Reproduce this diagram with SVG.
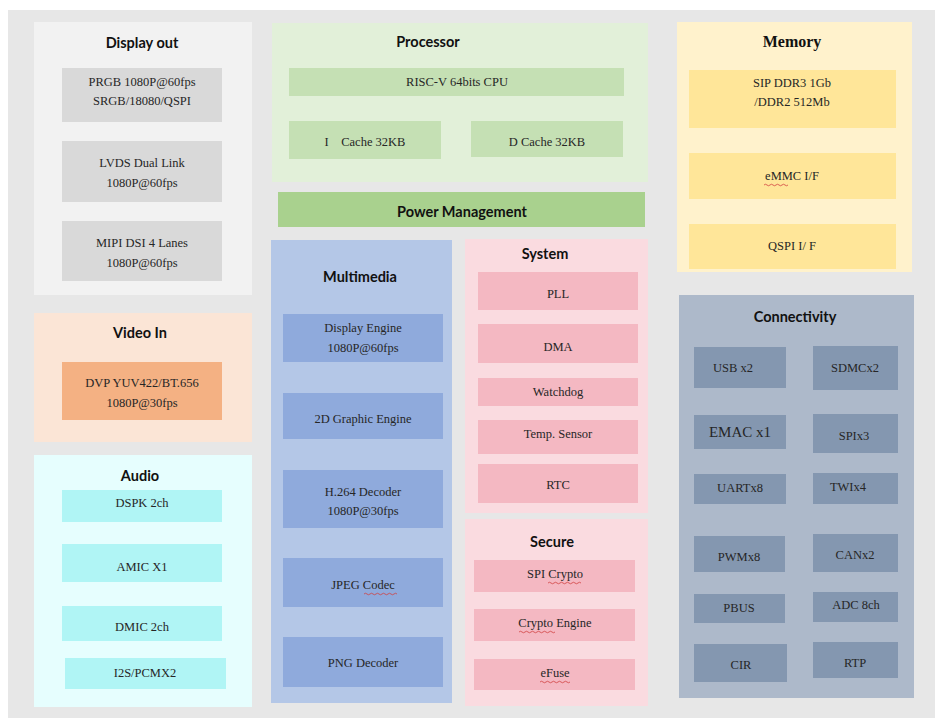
<svg xmlns="http://www.w3.org/2000/svg" width="935" height="718" viewBox="0 0 935 718">
<style>
.t{font-family:Lato,"Open Sans","Liberation Sans",sans-serif;font-weight:bold;font-size:14.5px;fill:#111;text-anchor:middle}
.ts{font-family:"Liberation Serif","Times New Roman",serif;font-weight:bold;font-size:16px;fill:#111;text-anchor:middle}
.b{font-family:"Liberation Serif","Times New Roman",serif;font-size:12.5px;fill:#262626;text-anchor:middle;dominant-baseline:middle}
.wv{fill:none;stroke:#d04040;stroke-width:0.8}
</style>
<rect x="0" y="0" width="935" height="718" fill="#ffffff"/>
<rect x="8" y="10" width="927" height="708" fill="#e7e7e7"/>

<g id="display-out">
<rect x="34" y="22" width="218" height="273" fill="#f2f2f2"/>
<text class="t" x="142" y="48">Display out</text>
<rect x="62" y="68" width="160" height="54" fill="#d9d9d9"/>
<text class="b" x="142" y="83">PRGB 1080P@60fps</text>
<text class="b" x="142" y="102">SRGB/18080/QSPI</text>
<rect x="62" y="141" width="160" height="61" fill="#d9d9d9"/>
<text class="b" x="142" y="164">LVDS Dual Link</text>
<text class="b" x="142" y="184">1080P@60fps</text>
<rect x="62" y="221" width="160" height="60" fill="#d9d9d9"/>
<text class="b" x="142" y="244">MIPI DSI 4 Lanes</text>
<text class="b" x="142" y="264">1080P@60fps</text>
</g>

<g id="video-in">
<rect x="34" y="313" width="218" height="129" fill="#fbe5d6"/>
<text class="t" x="140" y="338">Video In</text>
<rect x="62" y="362" width="160" height="58" fill="#f4b183"/>
<text class="b" x="142" y="384">DVP YUV422/BT.656</text>
<text class="b" x="142" y="404">1080P@30fps</text>
</g>

<g id="audio">
<rect x="34" y="455" width="218" height="252" fill="#e6fefe"/>
<text class="t" x="140" y="481">Audio</text>
<rect x="62" y="490" width="160" height="32" fill="#b0f5f5"/>
<text class="b" x="142" y="504">DSPK 2ch</text>
<rect x="62" y="544" width="160" height="38" fill="#b0f5f5"/>
<text class="b" x="142" y="568">AMIC X1</text>
<rect x="62" y="606" width="160" height="35" fill="#b0f5f5"/>
<text class="b" x="142" y="628">DMIC 2ch</text>
<rect x="65" y="658" width="161" height="31" fill="#b0f5f5"/>
<text class="b" x="145" y="674">I2S/PCMX2</text>
</g>

<g id="processor">
<rect x="272" y="23" width="376" height="159" fill="#e2f0d9"/>
<text class="t" x="428" y="47">Processor</text>
<rect x="289" y="68" width="335" height="28" fill="#c5e0b4"/>
<text class="b" x="457" y="83">RISC-V 64bits CPU</text>
<rect x="289" y="121" width="152" height="38" fill="#c5e0b4"/>
<text class="b" x="365" y="143" xml:space="preserve">I    Cache 32KB</text>
<rect x="471" y="121" width="152" height="36" fill="#c5e0b4"/>
<text class="b" x="547" y="143">D Cache 32KB</text>
</g>

<g id="power-management">
<rect x="278" y="192" width="367" height="35" fill="#a9d18e"/>
<text class="t" x="462" y="217">Power Management</text>
</g>

<g id="memory">
<rect x="677" y="22" width="235" height="250" fill="#fff2cc"/>
<text class="ts" x="792" y="47">Memory</text>
<rect x="689" y="70" width="207" height="58" fill="#ffe699"/>
<text class="b" x="792" y="84">SIP DDR3 1Gb</text>
<text class="b" x="792" y="103">/DDR2 512Mb</text>
<rect x="689" y="153" width="207" height="46" fill="#ffe699"/>
<text class="b" x="792" y="177">eMMC I/F</text>
<path class="wv" d="M764 185 q1.5 -1.5 3 0 t3 0 t3 0 t3 0 t3 0 t3 0 t3 0 t3 0"/>
<rect x="689" y="224" width="207" height="45" fill="#ffe699"/>
<text class="b" x="792" y="247">QSPI I/ F</text>
</g>

<g id="multimedia">
<rect x="271" y="240" width="181" height="463" fill="#b4c7e7"/>
<text class="t" x="360" y="282">Multimedia</text>
<rect x="283" y="314" width="160" height="48" fill="#8faadc"/>
<text class="b" x="363" y="329">Display Engine</text>
<text class="b" x="363" y="349">1080P@60fps</text>
<rect x="283" y="393" width="160" height="46" fill="#8faadc"/>
<text class="b" x="363" y="420">2D Graphic Engine</text>
<rect x="283" y="470" width="160" height="58" fill="#8faadc"/>
<text class="b" x="363" y="493">H.264 Decoder</text>
<text class="b" x="363" y="512">1080P@30fps</text>
<rect x="283" y="558" width="160" height="49" fill="#8faadc"/>
<text class="b" x="363" y="586">JPEG Codec</text>
<path class="wv" d="M364 594 q1.5 -1.5 3 0 t3 0 t3 0 t3 0 t3 0 t3 0 t3 0 t3 0 t3 0 t3 0 t3 0"/>
<rect x="283" y="637" width="160" height="50" fill="#8faadc"/>
<text class="b" x="363" y="664">PNG Decoder</text>
</g>

<g id="system">
<rect x="465" y="239" width="183" height="274" fill="#fadbe0"/>
<text class="t" x="545" y="259">System</text>
<rect x="478" y="272" width="160" height="38" fill="#f4b8c2"/>
<text class="b" x="558" y="295">PLL</text>
<rect x="478" y="324" width="160" height="39" fill="#f4b8c2"/>
<text class="b" x="558" y="348">DMA</text>
<rect x="478" y="378" width="160" height="28" fill="#f4b8c2"/>
<text class="b" x="558" y="393">Watchdog</text>
<rect x="478" y="420" width="160" height="34" fill="#f4b8c2"/>
<text class="b" x="558" y="435">Temp. Sensor</text>
<rect x="478" y="464" width="160" height="39" fill="#f4b8c2"/>
<text class="b" x="558" y="486">RTC</text>
</g>

<g id="secure">
<rect x="465" y="519" width="183" height="187" fill="#fadbe0"/>
<text class="t" x="552" y="547">Secure</text>
<rect x="474" y="560" width="161" height="32" fill="#f4b8c2"/>
<text class="b" x="555" y="575">SPI Crypto</text>
<path class="wv" d="M548 583 q1.5 -1.5 3 0 t3 0 t3 0 t3 0 t3 0 t3 0 t3 0 t3 0 t3 0 t3 0 t3 0"/>
<rect x="474" y="609" width="161" height="32" fill="#f4b8c2"/>
<text class="b" x="555" y="624">Crypto Engine</text>
<path class="wv" d="M519 632 q1.5 -1.5 3 0 t3 0 t3 0 t3 0 t3 0 t3 0 t3 0 t3 0 t3 0 t3 0 t3 0 t3 0"/>
<rect x="474" y="659" width="161" height="31" fill="#f4b8c2"/>
<text class="b" x="555" y="674">eFuse</text>
<path class="wv" d="M540 682 q1.5 -1.5 3 0 t3 0 t3 0 t3 0 t3 0 t3 0 t3 0 t3 0 t3 0 t3 0"/>
</g>

<g id="connectivity">
<rect x="679" y="295" width="235" height="403" fill="#adb9ca"/>
<text class="t" x="795" y="322">Connectivity</text>
<rect x="694" y="347" width="92" height="41" fill="#8497b0"/>
<text class="b" x="733" y="369">USB x2</text>
<rect x="813" y="346" width="85" height="44" fill="#8497b0"/>
<text class="b" x="855" y="369">SDMCx2</text>
<rect x="694" y="415" width="92" height="34" fill="#8497b0"/>
<text class="b" x="740" y="434" style="font-size:15px">EMAC x1</text>
<rect x="813" y="414" width="85" height="39" fill="#8497b0"/>
<text class="b" x="854" y="437">SPIx3</text>
<rect x="694" y="474" width="92" height="30" fill="#8497b0"/>
<text class="b" x="740" y="489">UARTx8</text>
<rect x="813" y="473" width="85" height="31" fill="#8497b0"/>
<text class="b" x="848" y="488">TWIx4</text>
<rect x="694" y="536" width="91" height="36" fill="#8497b0"/>
<text class="b" x="739" y="558">PWMx8</text>
<rect x="813" y="534" width="85" height="38" fill="#8497b0"/>
<text class="b" x="855" y="556">CANx2</text>
<rect x="694" y="594" width="91" height="29" fill="#8497b0"/>
<text class="b" x="739" y="609">PBUS</text>
<rect x="813" y="592" width="85" height="30" fill="#8497b0"/>
<text class="b" x="856" y="606">ADC 8ch</text>
<rect x="694" y="644" width="93" height="38" fill="#8497b0"/>
<text class="b" x="741" y="666">CIR</text>
<rect x="813" y="642" width="85" height="36" fill="#8497b0"/>
<text class="b" x="855" y="664">RTP</text>
</g>

<g id="connectors"></g>
</svg>
